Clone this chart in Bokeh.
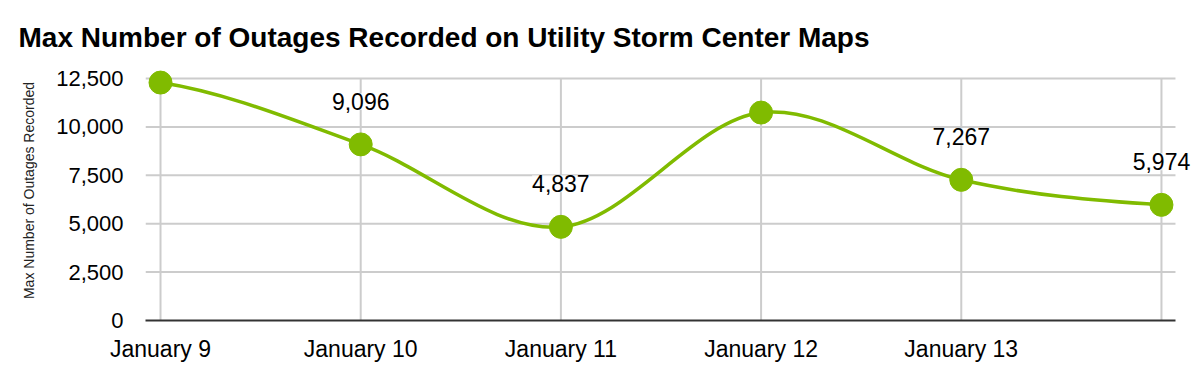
from bokeh.plotting import figure
from bokeh.models import (ColumnDataSource, FixedTicker, NumeralTickFormatter, Range1d, LabelSet)
from bokeh.core.properties import value
from bokeh.embed import file_html
from bokeh.resources import INLINE

# ---- data ----
dates = ["January 9", "January 10", "January 11", "January 12", "January 13", "January 14"]
tick_labels = ["January 9", "January 10", "January 11", "January 12", "January 13", ""]
outages = [12290, 9096, 4837, 10740, 7267, 5974]
show_label = [False, True, True, False, True, True]
y_ticks = [0, 2500, 5000, 7500, 10000, 12500]

GREEN = "#80bb00"
FONT = "Liberation Sans"

xs = list(range(len(outages)))
X_LO = xs[0] - 0.075
X_HI = xs[-1] + 0.07

p = figure(width=1200, height=380, output_backend="svg", toolbar_location=None,
           x_range=Range1d(X_LO, xs[-1] + 0.195),
           y_range=Range1d(0, 13430),
           min_border_left=145, min_border_right=0, min_border_top=60, min_border_bottom=60)

p.outline_line_color = None
p.background_fill_color = "white"
p.border_fill_color = "white"

# title
p.title.text = "Max Number of Outages Recorded on Utility Storm Center Maps"
p.title.text_font = FONT
p.title.text_font_size = "28px"
p.title.text_font_style = "bold"
p.title.text_color = "#000000"
p.title.align = "left"
p.title.offset = -127
p.title.standoff = 15

# axes
p.yaxis.ticker = FixedTicker(ticks=y_ticks)
p.yaxis.formatter = NumeralTickFormatter(format="0,0")
p.yaxis.axis_line_color = None
p.yaxis.major_tick_line_color = None
p.yaxis.minor_tick_line_color = None
p.yaxis.major_label_text_font = FONT
p.yaxis.major_label_text_font_size = "22px"
p.yaxis.major_label_text_color = "#000000"
p.yaxis.major_label_standoff = 16
p.yaxis.axis_label = "Max Number of Outages Recorded"
p.yaxis.axis_label_text_font = FONT
p.yaxis.axis_label_text_font_size = "14px"
p.yaxis.axis_label_text_font_style = "normal"
p.yaxis.axis_label_text_color = "#222222"
p.yaxis.axis_label_standoff = 16

p.xaxis.ticker = FixedTicker(ticks=xs)
p.xaxis.major_label_overrides = {i: t for i, t in zip(xs, tick_labels)}
p.xaxis.bounds = (X_LO, X_HI)
p.xaxis.axis_line_color = "#333333"
p.xaxis.axis_line_width = 2
p.xaxis.major_tick_line_color = None
p.xaxis.minor_tick_line_color = None
p.xaxis.major_label_text_font = FONT
p.xaxis.major_label_text_font_size = "23px"
p.xaxis.major_label_text_color = "#000000"
p.xaxis.major_label_standoff = 9

# grids (drawn as segments so they stop at the chart area edges)
p.xgrid.grid_line_color = None
p.ygrid.grid_line_color = None
p.segment(x0=[X_LO] * len(y_ticks[1:]), y0=y_ticks[1:], x1=[X_HI] * len(y_ticks[1:]), y1=y_ticks[1:],
          line_color="#cccccc", line_width=2)
p.segment(x0=xs, y0=[0] * len(xs), x1=xs, y1=[max(y_ticks)] * len(xs),
          line_color="#cccccc", line_width=2)

# smooth curve (Catmull-Rom -> cubic Bezier)
n = len(outages)
x0, y0, x1, y1, cx0, cy0, cx1, cy1 = [], [], [], [], [], [], [], []
for i in range(n - 1):
    yp = outages[i - 1] if i > 0 else outages[i]
    yn2 = outages[i + 2] if i + 2 < n else outages[i + 1]
    x0.append(xs[i]); y0.append(outages[i])
    x1.append(xs[i + 1]); y1.append(outages[i + 1])
    cx0.append(xs[i] + 1 / 3); cy0.append(outages[i] + (outages[i + 1] - yp) / 6)
    cx1.append(xs[i + 1] - 1 / 3); cy1.append(outages[i + 1] - (yn2 - outages[i]) / 6)
p.bezier(x0=x0, y0=y0, x1=x1, y1=y1, cx0=cx0, cy0=cy0, cx1=cx1, cy1=cy1,
         line_color=GREEN, line_width=3.5)

p.scatter(xs, outages, size=23, fill_color=GREEN, line_color=GREEN)

# data labels
lab_x = [x for x, s in zip(xs, show_label) if s]
lab_y = [v for v, s in zip(outages, show_label) if s]
lab_t = [f"{v:,}" for v, s in zip(outages, show_label) if s]
src = ColumnDataSource(dict(x=lab_x, y=lab_y, t=lab_t))
labels = LabelSet(x="x", y="y", text="t", source=src, y_offset=43,
                  text_align="center", text_baseline="middle",
                  text_font=value(FONT), text_font_size="23px", text_color="#000000",
                  background_fill_color="white", background_fill_alpha=0.7)
p.add_layout(labels)

open("out.html", "w").write(file_html(p, INLINE))
